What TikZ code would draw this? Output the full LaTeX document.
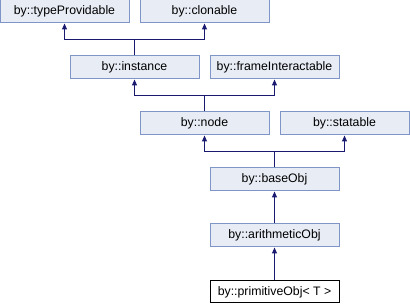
\documentclass[tikz,border=0pt]{standalone}
\usepackage{fontspec}
\setmainfont{Liberation Sans}
\usetikzlibrary{arrows.meta}
\definecolor{boxfill}{HTML}{E8ECF5}
\definecolor{boxline}{HTML}{7F95C8}
\definecolor{edgecol}{HTML}{191970}
\begin{document}
\begin{tikzpicture}[x=1pt,y=-1pt,
  cls/.style={draw=boxline,fill=boxfill,line width=1pt,minimum width=129pt,minimum height=23pt,inner sep=0pt,font=\fontsize{12.3}{13}\selectfont},
  cur/.style={cls,draw=black,fill=white,minimum height=22pt},
  edge/.style={draw=edgecol,line width=1pt,-{Triangle[length=6pt,width=5pt]}}]
\useasboundingbox (0,0) rectangle (410,304);
\node[cls] (tp) at (64.5,11.5) {by::typeProvidable};
\node[cls] (cl) at (204.5,11.5) {by::clonable};
\node[cls] (inst) at (134.5,67.5) {by::instance};
\node[cls] (fi) at (274.5,67.5) {by::frameInteractable};
\node[cls] (nd) at (204.5,123.5) {by::node};
\node[cls] (st) at (344.5,123.5) {by::statable};
\node[cls] (bo) at (274.5,179.5) {by::baseObj};
\node[cls] (ao) at (274.5,235.5) {by::arithmeticObj};
\node[cur] (po) at (274.5,292) {by::primitiveObj< T >};
\coordinate (j1) at (134.5,40);
\coordinate (j2) at (204.5,96);
\coordinate (j3) at (274.5,152);
\draw[draw=edgecol,line width=1pt] (inst.north) -- (j1);
\draw[edge] (j1) -| (tp.south);
\draw[edge] (j1) -| (cl.south);
\draw[draw=edgecol,line width=1pt] (nd.north) -- (j2);
\draw[edge] (j2) -| (inst.south);
\draw[edge] (j2) -| (fi.south);
\draw[draw=edgecol,line width=1pt] (bo.north) -- (j3);
\draw[edge] (j3) -| (nd.south);
\draw[edge] (j3) -| (st.south);
\draw[edge] (ao.north) -- (bo.south);
\draw[edge] (po.north) -- (ao.south);
\end{tikzpicture}
\end{document}
